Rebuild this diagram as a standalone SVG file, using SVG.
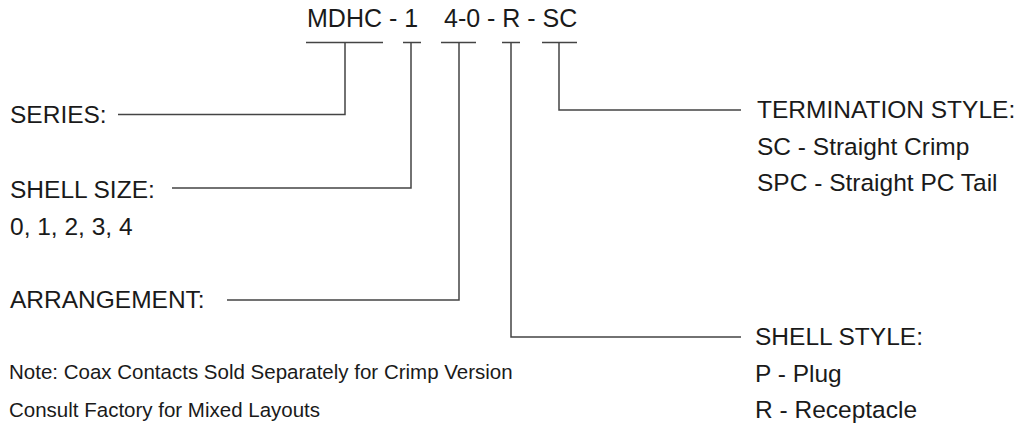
<svg xmlns="http://www.w3.org/2000/svg" width="1019" height="425" viewBox="0 0 1019 425">
<style>
text{font-family:"Liberation Sans",Arial,Helvetica,sans-serif;fill:#1a1a1a}
.t{font-size:25px}
.l{font-size:24.5px}
.n{font-size:20.5px}
.c{fill:none;stroke:#444;stroke-width:1.5}
</style>
<rect width="1019" height="425" fill="#fff"/>
<g id="title">
<text class="t" y="27"><tspan x="307">MDHC - 1</tspan><tspan x="444">4-0 - R - SC</tspan></text>
</g>
<g id="connectors">
<path class="c" d="M306 42.5H383M345 42.5V114.5H118"/>
<path class="c" d="M403 42.5H421M411 42.5V188H172"/>
<path class="c" d="M441 42.5H476M459 42.5V300H227"/>
<path class="c" d="M502 42.5H520M511 42.5V337H741"/>
<path class="c" d="M542 42.5H577M559 42.5V110H741"/>
</g>
<g id="series"><text class="l" x="10" y="123">SERIES:</text></g>
<g id="shell-size"><text class="l" x="10" y="198">SHELL SIZE:</text><text class="l" x="10" y="235">0, 1, 2, 3, 4</text></g>
<g id="arrangement"><text class="l" x="10" y="308">ARRANGEMENT:</text></g>
<g id="termination"><text class="l" x="757" y="118">TERMINATION STYLE:</text><text class="l" x="757" y="155">SC - Straight Crimp</text><text class="l" x="757" y="191">SPC - Straight PC Tail</text></g>
<g id="shell-style"><text class="l" x="755" y="345">SHELL STYLE:</text><text class="l" x="755" y="382">P - Plug</text><text class="l" x="755" y="418">R - Receptacle</text></g>
<g id="notes"><text class="n" x="9" y="379">Note: Coax Contacts Sold Separately for Crimp Version</text><text class="n" x="9" y="417">Consult Factory for Mixed Layouts</text></g>
</svg>
